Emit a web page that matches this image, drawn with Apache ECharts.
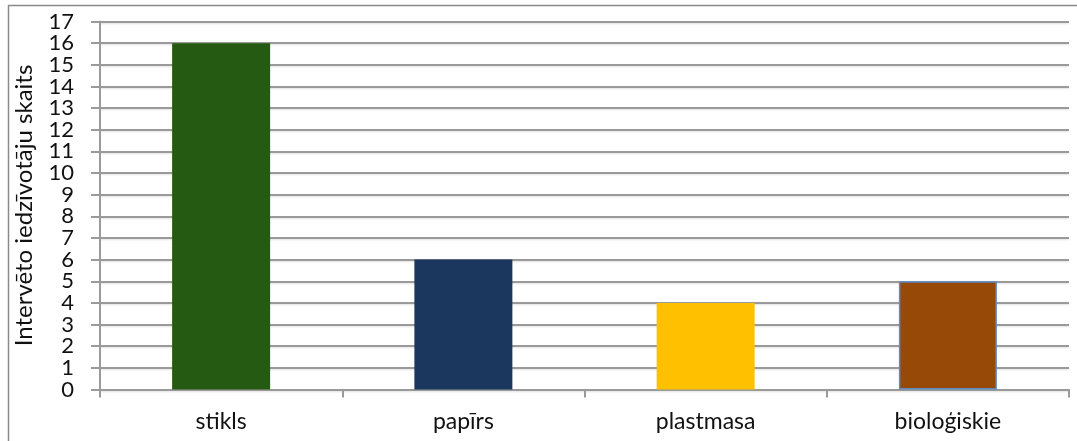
<!DOCTYPE html>
<html>
<head>
<meta charset="utf-8">
<script src="https://cdn.jsdelivr.net/npm/echarts@6/dist/echarts.min.js"></script>
<style>
  html, body { margin: 0; padding: 0; background: #ffffff; }
  #chart { width: 1077px; height: 441px; }
</style>
</head>
<body>
<div id="chart"></div>
<script>
// Waste types and how many interviewed residents named each
const categories = ['stikls', 'papīrs', 'plastmasa', 'bioloģiskie'];
const residentCounts = [16, 6, 4, 5];
const barColors = ['#245a11', '#1b375d', '#ffc000', '#974a07'];
const barBorders = [null, null, null, '#5b8bc4'];
const yAxisTitle = 'Intervēto iedzīvotāju skaits';
// Count-axis labels, split into two interleaved sets so every number stays visible
const yLabelsEven = [0, 2, 4, 6, 8, 10, 12, 14, 16];
const yLabelsOdd = [1, 3, 5, 7, 9, 11, 13, 15, 17];

const FONT = 'Lato, "Noto Sans", sans-serif';
const Y_MIN = 0, Y_MAX = 17;

const barData = residentCounts.map((v, i) => ({
  value: v,
  itemStyle: {
    color: barColors[i],
    borderColor: barBorders[i] || barColors[i],
    borderWidth: barBorders[i] ? 1.5 : 0
  }
}));

const labelAxis = (values) => ({
  type: 'value',
  position: 'left',
  min: Y_MIN,
  max: Y_MAX,
  interval: 1,
  axisLine: { show: false },
  axisTick: { show: false },
  splitLine: { show: false },
  axisLabel: {
    show: true, customValues: values,
    color: '#111', fontFamily: FONT, fontSize: 22, margin: 26,
    showMinLabel: true, showMaxLabel: true
  }
});

const chart = echarts.init(document.getElementById('chart'), null, { renderer: 'canvas' });
chart.setOption({
  animation: false,
  backgroundColor: '#ffffff',
  graphic: [{
    type: 'polyline',
    shape: { points: [[8.5, 460], [8.5, 5.5], [1090, 5.5]] },
    style: { stroke: '#8a8a8a', lineWidth: 1.5, fill: null },
    silent: true
  }],
  grid: { left: 100, right: 8, top: 21.5, bottom: 51.5, containLabel: false },
  xAxis: {
    type: 'category',
    data: categories,
    axisLine: { show: true, lineStyle: { color: '#9a9a9a', width: 2 } },
    axisTick: { show: true, length: 8, alignWithLabel: false, lineStyle: { color: '#9a9a9a', width: 2 } },
    axisLabel: { color: '#111', fontFamily: FONT, fontSize: 23, margin: 21 },
    splitLine: { show: false }
  },
  yAxis: [{
    type: 'value',
    position: 'left',
    min: Y_MIN,
    max: Y_MAX,
    interval: 1,
    name: yAxisTitle,
    nameLocation: 'middle',
    nameGap: 64,
    nameTextStyle: { color: '#111', fontFamily: FONT, fontSize: 24 },
    axisLine: { show: true, lineStyle: { color: '#9a9a9a', width: 2 } },
    axisTick: { show: true, inside: false, length: 9, lineStyle: { color: '#9a9a9a', width: 2 } },
    axisLabel: { show: false },
    splitLine: {
      show: true,
      lineStyle: {
        color: '#9a9a9a', width: 2,
        shadowColor: 'rgba(0,0,0,0.12)', shadowBlur: 2, shadowOffsetY: 1
      }
    }
  }, labelAxis(yLabelsEven), labelAxis(yLabelsOdd)],
  series: [{
    type: 'bar',
    yAxisIndex: 0,
    data: barData,
    barWidth: 98
  }]
});
</script>
</body>
</html>
